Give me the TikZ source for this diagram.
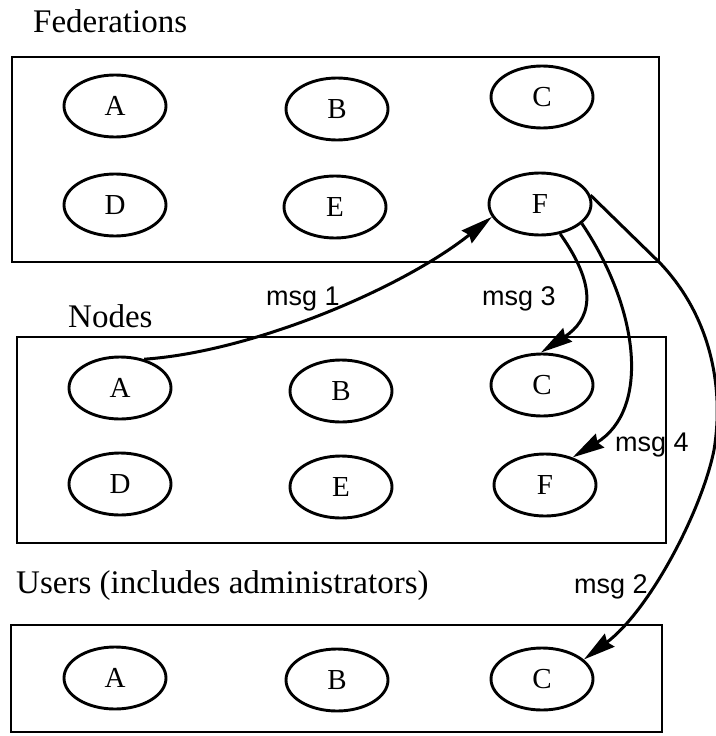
\documentclass[tikz,border=0pt]{standalone}
\usepackage{fontspec}
\setmainfont{Liberation Serif}
\newfontfamily\labelsans{Liberation Sans}
\usetikzlibrary{arrows.meta,shapes.geometric}
\begin{document}
\begin{tikzpicture}[x=1pt,y=-1pt,
  group/.style={draw, line width=2.8pt, inner sep=0pt},
  member/.style={draw, ellipse, line width=2.9pt, minimum width=102pt,
    minimum height=62pt, inner sep=0pt, font=\fontsize{29}{30}\selectfont},
  heading/.style={font=\fontsize{33}{36}\selectfont, inner sep=0pt, anchor=base west},
  msglabel/.style={font=\labelsans\fontsize{27}{30}\selectfont, inner sep=0pt, anchor=base west},
  msgarrow/.style={line width=3pt, -{Stealth[length=32pt,width=16pt,inset=3pt]}},
]
\useasboundingbox[fill=white] (0,0) rectangle (715,736);

% group headings
\node[heading] (hfed) at (33,32) {Federations};
\node[heading] (hnod) at (68,327) {Nodes};
\node[heading] (husr) at (16,593) {Users (includes administrators)};

% group boxes
\node[group, minimum width=647pt, minimum height=205pt] (fed) at (335.5,159.5) {};
\node[group, minimum width=649pt, minimum height=206pt] (nod) at (341.5,440) {};
\node[group, minimum width=651pt, minimum height=107pt] (usr) at (336.5,678.5) {};

% federations
\node[member] (fA) at (115,106) {A};
\node[member] (fB) at (337,109) {B};
\node[member] (fC) at (542,97)  {C};
\node[member] (fD) at (115,205) {D};
\node[member] (fE) at (335,207) {E};
\node[member] (fF) at (540,204) {F};

% nodes
\node[member] (nA) at (120,388) {A};
\node[member] (nB) at (341,391) {B};
\node[member] (nC) at (542,385) {C};
\node[member] (nD) at (120,484) {D};
\node[member] (nE) at (341,487) {E};
\node[member] (nF) at (545,485) {F};

% users
\node[member] (uA) at (115,678) {A};
\node[member] (uB) at (337,680) {B};
\node[member] (uC) at (542,679) {C};

% messages
\coordinate (corner) at (fed.south east);
\draw[msgarrow] (nA.50) .. controls (250,352) and (400,290) .. (fF.195);
\draw[msgarrow] (fF.-56) .. controls (600,290) and (590,320) .. (nC.92);
\draw[msgarrow] (fF.-25) .. controls (640,310) and (650,410) .. (nF.45);
\draw[msgarrow] (fF.10) -- (corner)
  .. controls (712,318) and (724,390) .. (714,450)
  .. controls (702,510) and (650,610) .. (uC.25);

\node[msglabel] (m1) at (266,305) {msg 1};
\node[msglabel] (m3) at (482,305) {msg 3};
\node[msglabel] (m4) at (615,451) {msg 4};
\node[msglabel] (m2) at (574,593) {msg 2};
\end{tikzpicture}
\end{document}
